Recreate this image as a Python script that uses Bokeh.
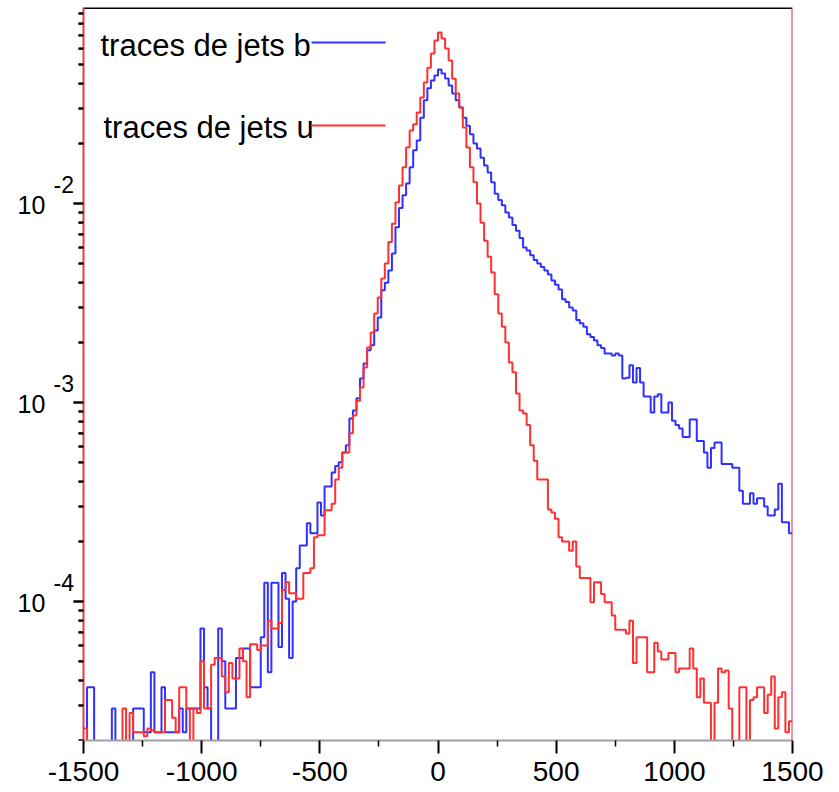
import numpy as np
from bokeh.plotting import figure
from bokeh.models import Label, Span, Arrow, FixedTicker, Range1d
from bokeh.embed import file_html
from bokeh.resources import INLINE

# ---------------- data ----------------
X_MIN, X_MAX = -1500, 1500
BIN_WIDTH = 15
Y_MIN, Y_MAX = 2e-5, 0.0966
x_ticks = [-1500, -1000, -500, 0, 500, 1000, 1500]
y_decades = [1e-2, 1e-3, 1e-4]
y_exponents = ["-2", "-3", "-4"]
series_labels = ["traces de jets b", "traces de jets u"]

b_jets = [
    0, 3.7e-5, 3.7e-5, 0, 0, 0, 0, 0, 2.9e-5, 0,
    0, 0, 0, 0, 2.9e-5, 2.9e-5, 2.9e-5, 2.2e-5, 2.2e-5, 4.4e-5,
    2.2e-5, 2.2e-5, 3.7e-5, 2.2e-5, 2.2e-5, 2.2e-5, 2.2e-5, 2.9e-5, 2.2e-5, 2.9e-5,
    2.9e-5, 2.9e-5, 2.9e-5, 7.3e-5, 3.7e-5, 2.9e-5, 0, 0, 7.3e-5, 5.0e-5,
    2.9e-5, 2.9e-5, 2.9e-5, 5.2e-5, 5.2e-5, 5.8e-5, 5.8e-5, 3.7e-5, 3.7e-5, 3.7e-5,
    6.6e-5, 1.24e-4, 4.4e-5, 1.24e-4, 1.24e-4, 5.9e-5, 1.39e-4, 1.03e-4, 5.2e-5, 1.0e-4,
    1.47e-4, 1.91e-4, 1.91e-4, 2.47e-4, 2.2e-4, 2.2e-4, 3.14e-4, 2.7e-4, 3.78e-4, 3.78e-4,
    4.45e-4, 4.8e-4, 5.0e-4, 5.6e-4, 6.1e-4, 8.3e-4, 9.1e-4, 1.05e-3, 1.32e-3, 1.57e-3,
    1.83e-3, 1.94e-3, 2.3e-3, 2.67e-3, 3.66e-3, 4.0e-3, 4.6e-3, 5.6e-3, 7.6e-3, 9.5e-3,
    0.0110, 0.0126, 0.0152, 0.0185, 0.0207, 0.0270, 0.0330, 0.0379, 0.0415, 0.0440,
    0.0471, 0.0450, 0.0425, 0.0392, 0.0357, 0.0330, 0.0304, 0.0270, 0.0246, 0.0223,
    0.0200, 0.0189, 0.0170, 0.0155, 0.0143, 0.0128, 0.0112, 0.0104, 0.0098, 0.0090,
    0.0085, 0.0078, 0.0073, 0.0067, 0.0060, 0.0058, 0.0055, 0.0052, 0.0050, 0.0048,
    0.0046, 0.0044, 0.0041, 0.0039, 0.0037, 0.0033, 0.0032, 0.0030, 0.0029, 0.0026,
    0.0025, 0.0024, 0.0022, 0.00213, 0.00205, 0.00194, 0.00188, 0.00176, 0.00176, 0.00172,
    0.00176, 0.00172, 0.00132, 0.00133, 0.00154, 0.00126, 0.00149, 0.00126, 0.00107, 0.00107,
    0.00089, 0.00107, 0.00110, 0.00089, 0.00089, 0.00100, 0.00081, 0.00077, 0.00074, 0.00067,
    0.00067, 0.00082, 0.00082, 0.00064, 0.00064, 0.00056, 0.00047, 0.00059, 0.00063, 0.00063,
    0.00049, 0.00049, 0.00049, 0.00047, 0.00047, 0.00036, 0.00031, 0.00031, 0.00035, 0.00031,
    0.00033, 0.00033, 0.00030, 0.00027, 0.00027, 0.00029, 0.00039, 0.00025, 0.00025, 0.00022,
]

u_jets = [
    2.3e-5, 0, 0, 0, 0, 0, 0, 0, 0, 0,
    0, 2.9e-5, 0, 2.75e-5, 2.2e-5, 2.2e-5, 2.2e-5, 2.1e-5, 2.3e-5, 2.25e-5,
    2.2e-5, 2.2e-5, 2.2e-5, 3.2e-5, 3.2e-5, 2.6e-5, 2.2e-5, 3.7e-5, 3.7e-5, 2.9e-5,
    0, 2.9e-5, 2.75e-5, 5.0e-5, 2.9e-5, 2.9e-5, 4.8e-5, 5.2e-5, 5.2e-5, 4.2e-5,
    3.5e-5, 4.9e-5, 4.1e-5, 4.1e-5, 5.8e-5, 5.0e-5, 3.3e-5, 6.1e-5, 6.1e-5, 5.7e-5,
    6.0e-5, 6.0e-5, 8.0e-5, 7.3e-5, 7.3e-5, 7.8e-5, 1.14e-4, 1.25e-4, 1.1e-4, 1.1e-4,
    1.03e-4, 1.03e-4, 1.39e-4, 1.39e-4, 1.47e-4, 2.1e-4, 2.15e-4, 2.15e-4, 2.87e-4, 2.87e-4,
    3.1e-4, 4.1e-4, 4.7e-4, 5.6e-4, 5.6e-4, 7.0e-4, 8.6e-4, 1.02e-3, 1.19e-3, 1.50e-3,
    1.89e-3, 2.25e-3, 2.8e-3, 3.37e-3, 4.2e-3, 5.0e-3, 6.4e-3, 7.9e-3, 0.0101, 0.0123,
    0.0152, 0.0191, 0.0233, 0.0250, 0.0287, 0.0341, 0.0405, 0.0481, 0.0567, 0.0659,
    0.0723, 0.0674, 0.0601, 0.0523, 0.0424, 0.0357, 0.0304, 0.0241, 0.0191, 0.0152,
    0.0128, 0.0100, 0.0080, 0.0065, 0.0054, 0.0045, 0.0035, 0.0028, 0.0024, 0.0020,
    0.00159, 0.00142, 0.00111, 0.00091, 0.00088, 0.00077, 0.00061, 0.00051, 0.00041, 0.00041,
    0.00041, 0.00029, 0.00028, 0.00026, 0.00021, 0.00020, 0.00020, 0.00018, 0.00020, 0.00015,
    1.31e-4, 1.31e-4, 1.31e-4, 9.9e-5, 1.25e-4, 1.25e-4, 1.09e-4, 9.9e-5, 9.9e-5, 8.5e-5,
    7.2e-5, 7.2e-5, 7.2e-5, 6.9e-5, 8.0e-5, 4.9e-5, 6.6e-5, 6.6e-5, 6.6e-5, 4.4e-5,
    4.4e-5, 6.2e-5, 5.6e-5, 5.1e-5, 5.1e-5, 5.5e-5, 5.5e-5, 4.4e-5, 4.6e-5, 4.6e-5,
    4.6e-5, 5.8e-5, 4.6e-5, 3.3e-5, 4.1e-5, 3.1e-5, 3.1e-5, 0, 3.1e-5, 4.6e-5,
    4.4e-5, 4.5e-5, 2.9e-5, 0, 0, 3.7e-5, 3.7e-5, 0, 3.2e-5, 3.3e-5,
    3.7e-5, 3.7e-5, 2.75e-5, 3.4e-5, 4.2e-5, 2.3e-5, 3.3e-5, 3.5e-5, 2.2e-5, 2.5e-5,
]

BLUE = "#3030ff"
RED = "#ff3030"
FONT = "Liberation Sans"

# ---------------- layout constants (px) ----------------
W, H = 839, 792
FRAME_LEFT = 16          # canvas x where the drawing frame starts
AXIS_X = 83              # canvas x of the y axis (x = X_MIN)
PLOT_RIGHT = 792         # canvas x of x = X_MAX
FRAME_TOP = 7
FRAME_BOTTOM = 740
MAJOR_TICK_PX, MINOR_TICK_PX = 10, 5
units_per_px = (X_MAX - X_MIN) / (PLOT_RIGHT - AXIS_X)
x_start = X_MIN - (AXIS_X - FRAME_LEFT) * units_per_px

p = figure(width=W, height=H, x_range=Range1d(x_start, X_MAX),
           y_range=Range1d(Y_MIN, Y_MAX), y_axis_type="log",
           output_backend="svg", toolbar_location=None,
           min_border_left=FRAME_LEFT, min_border_right=W - PLOT_RIGHT,
           min_border_top=FRAME_TOP, min_border_bottom=H - FRAME_BOTTOM)
p.outline_line_color = None
p.xgrid.visible = False
p.ygrid.visible = False

edges = X_MIN + BIN_WIDTH * np.arange(len(b_jets) + 1)
FLOOR = 1e-9


def step_vals(vals):
    v = [x if x > 0 else FLOOR for x in vals]
    return v + [v[-1]]


p.step(edges, step_vals(b_jets), mode="after", line_color=BLUE, line_width=2)
p.step(edges, step_vals(u_jets), mode="after", line_color=RED, line_width=2)

# x axis
xa = p.xaxis[0]
xa.bounds = (X_MIN, X_MAX)
xa.ticker = FixedTicker(ticks=x_ticks,
                        minor_ticks=[(a + b) / 2 for a, b in zip(x_ticks, x_ticks[1:])])
xa.major_label_overrides = {t: str(t) for t in x_ticks}
xa.axis_line_color = "#a0a0a0"
xa.axis_line_width = 2
xa.major_tick_in = 0
xa.major_tick_out = 13
xa.minor_tick_in = 0
xa.minor_tick_out = 6
xa.major_tick_line_color = "black"
xa.major_tick_line_width = 2
xa.minor_tick_line_color = "black"
xa.minor_tick_line_width = 1.5
xa.major_label_text_font = FONT
xa.major_label_text_font_size = "28px"
xa.major_label_text_color = "black"
xa.major_label_standoff = 8

# y axis at x = X_MIN: red spine + ticks
minor_y = [m * d for d in [1e-5, 1e-4, 1e-3, 1e-2] for m in range(2, 10)
           if Y_MIN <= m * d <= Y_MAX]
ya = p.yaxis[0]
ya.fixed_location = X_MIN
ya.ticker = FixedTicker(ticks=y_decades, minor_ticks=minor_y)
ya.major_label_overrides = {d: "" for d in y_decades}
ya.axis_line_color = "#e04040"
ya.axis_line_width = 2
ya.major_tick_in = 0
ya.major_tick_out = MAJOR_TICK_PX
ya.minor_tick_in = 0
ya.minor_tick_out = MINOR_TICK_PX
ya.major_tick_line_color = "black"
ya.major_tick_line_width = 2
ya.minor_tick_line_color = "black"
ya.minor_tick_line_width = 2

# tick marks on the y axis (drawn in the frame, left of the spine)
p.segment(x0=[X_MIN - MAJOR_TICK_PX * units_per_px] * len(y_decades), y0=y_decades,
          x1=[X_MIN] * len(y_decades), y1=y_decades, line_color="black", line_width=2)
p.segment(x0=[X_MIN - MINOR_TICK_PX * units_per_px] * len(minor_y), y0=minor_y,
          x1=[X_MIN] * len(minor_y), y1=minor_y, line_color="black", line_width=2)

# y tick labels "10" with raised exponent
for d, e in zip(y_decades, y_exponents):
    p.add_layout(Label(x=17 - FRAME_LEFT, y=d, x_units="screen", y_units="data", text="10",
                       text_align="left", text_baseline="middle", y_offset=-2,
                       text_font=FONT, text_font_size="25px", text_color="black"))
    p.add_layout(Label(x=53 - FRAME_LEFT, y=d, x_units="screen", y_units="data", text=e,
                       text_align="left", text_baseline="middle", y_offset=19,
                       text_font=FONT, text_font_size="23px", text_color="black"))

# frame borders: black top, crimson right
p.segment(x0=[X_MIN], y0=[Y_MAX], x1=[X_MAX], y1=[Y_MAX], line_color="black", line_width=3)
p.add_layout(Span(location=X_MAX, dimension="height", line_color="#cc3366", line_width=2))

# legend (label then line)
p.add_layout(Label(x=100 - FRAME_LEFT, y=FRAME_BOTTOM - 45, x_units="screen", y_units="screen",
                   text=series_labels[0], text_align="left", text_baseline="middle",
                   text_font=FONT, text_font_size="31px", text_color="black"))
p.add_layout(Label(x=103 - FRAME_LEFT, y=FRAME_BOTTOM - 127, x_units="screen", y_units="screen",
                   text=series_labels[1], text_align="left", text_baseline="middle",
                   text_font=FONT, text_font_size="31px", text_color="black"))
p.add_layout(Arrow(x_start=311 - FRAME_LEFT, y_start=FRAME_BOTTOM - 42,
                   x_end=385 - FRAME_LEFT, y_end=FRAME_BOTTOM - 42,
                   start_units="screen", end_units="screen", end=None,
                   line_color=BLUE, line_width=2))
p.add_layout(Arrow(x_start=311 - FRAME_LEFT, y_start=FRAME_BOTTOM - 125,
                   x_end=385 - FRAME_LEFT, y_end=FRAME_BOTTOM - 125,
                   start_units="screen", end_units="screen", end=None,
                   line_color=RED, line_width=2))

open("out.html", "w").write(file_html(p, INLINE))
